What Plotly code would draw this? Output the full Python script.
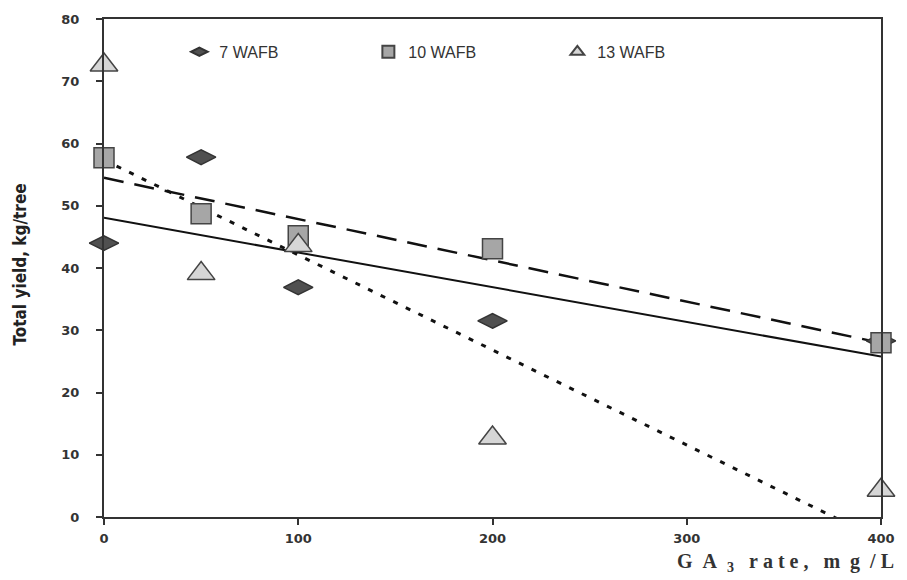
import numpy as np
import plotly.graph_objects as go

ga_rate = [0, 50, 100, 200, 400]
wafb7 = [44.0, 57.8, 36.9, 31.5, 28.3]
wafb10 = [57.7, 48.7, 45.2, 43.1, 28.0]
wafb13 = [72.6, 39.1, 43.6, 12.7, 4.3]
series_names = ["7 WAFB", "10 WAFB", "13 WAFB"]
x_ticks = [0, 100, 200, 300, 400]
y_ticks = [0, 10, 20, 30, 40, 50, 60, 70, 80]

fig = go.Figure()

trend_x = np.array([0, 400])
line_styles = [
    dict(color="#111111", width=2, dash="solid"),
    dict(color="#111111", width=2.5, dash="20px,11px"),
    dict(color="#111111", width=3, dash="5px,9px"),
]
for ys, ls in zip([wafb7, wafb10, wafb13], line_styles):
    k, b = np.polyfit(ga_rate, ys, 1)
    fig.add_trace(go.Scatter(x=trend_x, y=k * trend_x + b, mode="lines",
                             line=ls, showlegend=False, hoverinfo="skip"))

marker_styles = [
    dict(symbol="diamond-wide", size=21, color="#505050", line=dict(color="#333333", width=1.5)),
    dict(symbol="square", size=20, color="#a6a6a6", line=dict(color="#444444", width=1.5)),
    dict(symbol="triangle-up", size=24, color="#d6d6d6", line=dict(color="#444444", width=1.5)),
]
for ys, name, ms in zip([wafb7, wafb10, wafb13], series_names, marker_styles):
    fig.add_trace(go.Scatter(x=ga_rate, y=ys, mode="markers", name=name,
                             marker=ms, cliponaxis=False))

axis_font = dict(family="DejaVu Sans", size=13, color="#333333", weight="bold")
fig.update_layout(
    width=907, height=580,
    margin=dict(l=104, r=22, t=17, b=63),
    paper_bgcolor="white", plot_bgcolor="white",
    showlegend=True,
    legend=dict(orientation="h", x=0.097, y=0.934, xanchor="left", yanchor="middle",
                entrywidth=144, entrywidthmode="pixels",
                font=dict(family="Liberation Sans", size=16, color="#333333"),
                bgcolor="rgba(0,0,0,0)", itemsizing="constant"),
    xaxis=dict(range=[0, 400], tickvals=x_ticks, showgrid=False, zeroline=False,
               showline=True, linecolor="#333333", linewidth=2, mirror=True,
               ticks="outside", ticklen=6, tickcolor="#333333", tickwidth=1.5,
               tickfont=axis_font, ticklabelstandoff=2),
    yaxis=dict(range=[0, 80], tickvals=y_ticks, showgrid=False, zeroline=False,
               showline=True, linecolor="#333333", linewidth=2, mirror=True,
               ticks="outside", ticklen=6, tickcolor="#333333", tickwidth=1.5,
               tickfont=axis_font, ticklabelstandoff=14),
)

fig.add_annotation(text="Total yield, kg/tree", xref="paper", yref="paper",
                   x=(20 - 104) / 781, y=(517 - 263) / 500, xanchor="center", yanchor="middle",
                   textangle=-90, showarrow=False,
                   font=dict(family="Liberation Sans Narrow, DejaVu Sans Condensed, Arial Narrow, sans-serif",
                             size=17, color="#222222", weight="bold"))
nb = "\u00a0"
xtitle = (f"G{nb}{nb}A{nb}{nb}<sub>3</sub>{nb}{nb}{nb}r{nb}a{nb}t{nb}e{nb},{nb}{nb}{nb}"
          f"m{nb}{nb}g{nb}{nb}/{nb}L")
fig.add_annotation(text=xtitle, xref="paper", yref="paper",
                   x=(900 - 104) / 781, y=-(563 - 517) / 500, xanchor="right", yanchor="middle",
                   showarrow=False,
                   font=dict(family="Liberation Serif", size=20, color="#333333", weight="bold"))

fig.write_html("out.html")
